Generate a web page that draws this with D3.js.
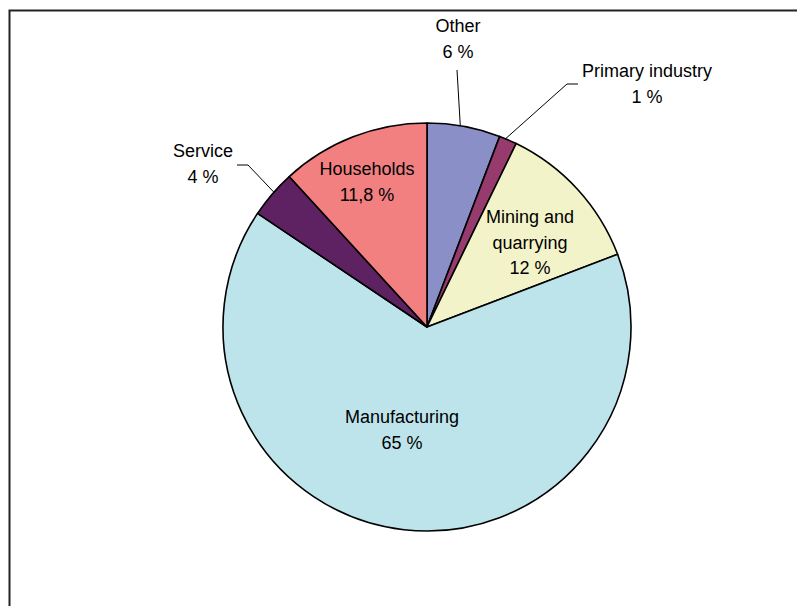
<!DOCTYPE html>
<html>
<head>
<meta charset="utf-8">
<script src="https://cdn.jsdelivr.net/npm/d3@7"></script>
<style>
  body { margin: 0; background: #fff; }
  svg { display: block; }
  text { font-family: "Liberation Sans", Arial, sans-serif; font-size: 18px; fill: #000; }
</style>
</head>
<body>
<script>
// shares in percent, clockwise from 12 o'clock
var categories = ["Other", "Primary industry", "Mining and quarrying", "Manufacturing", "Service", "Households"];
var values = [5.8, 1.4, 12.0, 65.2, 3.8, 11.8];
var valueLabels = ["6 %", "1 %", "12 %", "65 %", "4 %", "11,8 %"];
var colors = ["#8b8fc7", "#973a6e", "#f3f3c9", "#bee4eb", "#5e2161", "#f28080"];

var width = 797, height = 606;
var cx = 427, cy = 327, r = 204;

var svg = d3.select("body").append("svg")
    .attr("width", width)
    .attr("height", height);

// chart frame (runs off the right and bottom of the view)
svg.append("rect")
    .attr("x", 9.5).attr("y", 10.5)
    .attr("width", 820).attr("height", 640)
    .attr("fill", "none")
    .attr("stroke", "#222")
    .attr("stroke-width", 2);

var data = categories.map(function(c, i) { return {name: c, val: values[i], label: valueLabels[i]}; });

var pie = d3.pie().sort(null).value(function(d) { return d.val; });
var arc = d3.arc().innerRadius(0).outerRadius(r);
var arcs = pie(data);

var g = svg.append("g").attr("transform", "translate(" + cx + "," + cy + ")");
g.selectAll("path")
    .data(arcs)
  .enter().append("path")
    .attr("d", arc)
    .attr("fill", function(d, i) { return colors[i]; })
    .attr("stroke", "#000")
    .attr("stroke-width", 1.6)
    .attr("stroke-linejoin", "round");

// label layout: text lines and where they sit (relative to page)
var labelLayout = [
  {lines: ["Other"], x: 458, y: 32},
  {lines: ["Primary industry"], x: 647, y: 77},
  {lines: ["Mining and", "quarrying"], x: 530, y: 223},
  {lines: ["Manufacturing"], x: 402, y: 423},
  {lines: ["Service"], x: 203, y: 157},
  {lines: ["Households"], x: 367, y: 175}
];
var lineGap = 25.5;

labelLayout.forEach(function(l, i) {
  var t = svg.append("text")
      .attr("text-anchor", "middle")
      .attr("x", l.x).attr("y", l.y);
  var all = l.lines.concat([data[i].label]);
  all.forEach(function(s, k) {
    t.append("tspan")
        .attr("x", l.x)
        .attr("dy", k === 0 ? 0 : lineGap)
        .text(s);
  });
});

// leader lines: from label to the edge of their slice
function edgePoint(d, frac) {
  var a = d.startAngle + (d.endAngle - d.startAngle) * frac;
  return [cx + r * Math.sin(a), cy - r * Math.cos(a)];
}
var leaders = [
  {i: 0, pts: [[457, 70]], frac: 0.45},
  {i: 1, pts: [[578, 84], [567, 84]], frac: 0.35},
  {i: 4, pts: [[237, 165], [248, 165]], frac: 0.55}
];
leaders.forEach(function(l) {
  var pts = l.pts.concat([edgePoint(arcs[l.i], l.frac)]);
  svg.append("path")
      .attr("d", d3.line()(pts))
      .attr("fill", "none")
      .attr("stroke", "#000")
      .attr("stroke-width", 1);
});
</script>
</body>
</html>
